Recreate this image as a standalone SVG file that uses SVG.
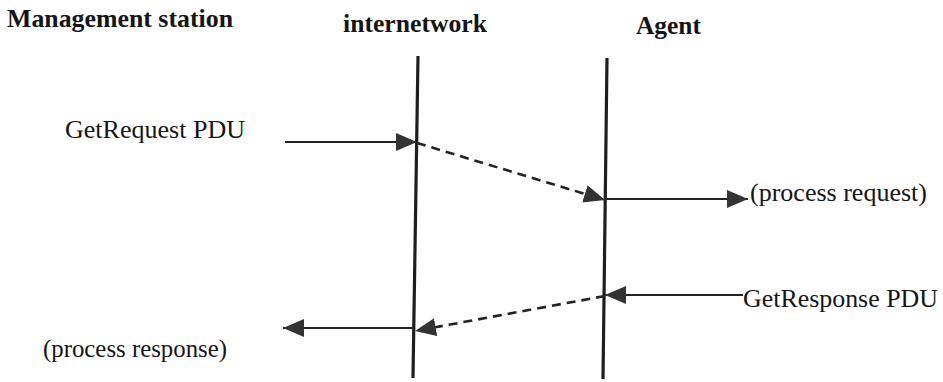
<svg xmlns="http://www.w3.org/2000/svg" width="943" height="382" viewBox="0 0 943 382">
<style>
.t{font-family:"Liberation Serif","Times New Roman",serif;fill:#151515}
.b{font-weight:700;font-size:25px}
.r{font-size:26px}
.life{stroke:#1e1e1e;stroke-width:3.2;fill:none}
.msg{stroke:#222;stroke-width:2;fill:none}
.dash{stroke:#222;stroke-width:2.6;fill:none;stroke-dasharray:9 6}
</style>
<defs>
<marker id="ah" markerUnits="userSpaceOnUse" markerWidth="22" markerHeight="20" viewBox="0 0 22 20" refX="21" refY="10" orient="auto">
<path d="M0,1 L21,10 L0,19 Z" fill="#333"/>
</marker>
</defs>
<rect width="943" height="382" fill="#fff"/>
<g id="management-station">
<text class="t b" x="7" y="27" textLength="226" lengthAdjust="spacingAndGlyphs">Management station</text>
</g>
<g id="internetwork">
<text class="t b" x="343" y="32" textLength="144" lengthAdjust="spacingAndGlyphs">internetwork</text>
<line class="life" x1="418" y1="56" x2="413" y2="378"/>
</g>
<g id="agent">
<text class="t b" x="636" y="34" textLength="65" lengthAdjust="spacingAndGlyphs">Agent</text>
<line class="life" x1="607" y1="58" x2="603" y2="379"/>
</g>
<g id="labels">
<text class="t r" x="65" y="138" textLength="180" lengthAdjust="spacingAndGlyphs">GetRequest PDU</text>
<text class="t r" x="750" y="201" textLength="177" lengthAdjust="spacingAndGlyphs">(process request)</text>
<text class="t r" x="743" y="307" textLength="195" lengthAdjust="spacingAndGlyphs">GetResponse PDU</text>
<text class="t r" x="43" y="357" textLength="184" lengthAdjust="spacingAndGlyphs">(process response)</text>
</g>
<g id="connectors">
<line class="msg" x1="285" y1="142" x2="417" y2="142" marker-end="url(#ah)"/>
<line class="dash" x1="417" y1="143" x2="605" y2="200" marker-end="url(#ah)"/>
<line class="msg" x1="605" y1="199" x2="748" y2="199" marker-end="url(#ah)"/>
<line class="msg" x1="743" y1="295" x2="605" y2="295" marker-end="url(#ah)"/>
<line class="dash" x1="605" y1="296" x2="415" y2="331" marker-end="url(#ah)"/>
<line class="msg" x1="413" y1="328" x2="283" y2="328" marker-end="url(#ah)"/>
</g>
</svg>
